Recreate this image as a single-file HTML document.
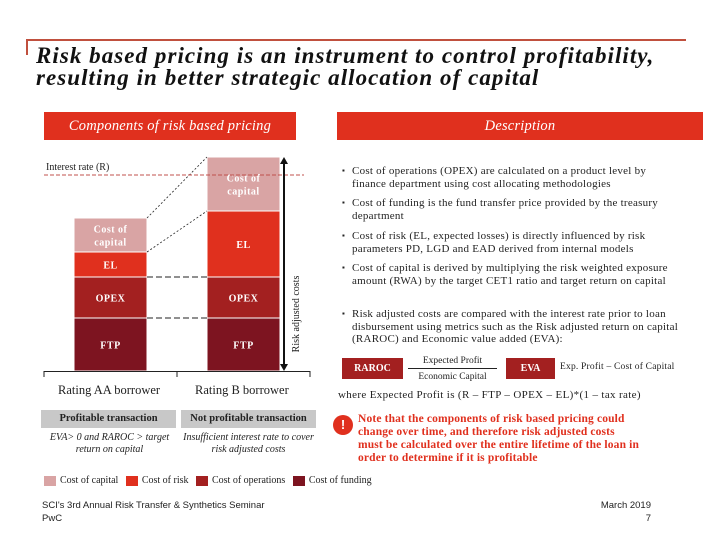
<!DOCTYPE html>
<html><head><meta charset="utf-8">
<style>
body{margin:0;width:720px;height:540px;background:#fff;position:relative;overflow:hidden;font-family:"Liberation Serif",serif;color:#222}
.a{position:absolute}
.hdr{background:#e0301e;color:#fff;font-style:italic;font-size:14.5px;letter-spacing:0.2px;text-align:center;line-height:28px}
.bl{font-size:11px;letter-spacing:0.25px;line-height:12.5px;position:absolute;left:352px;width:318px}
.bl:before{content:"▪";position:absolute;left:-10px;font-size:8px}
.sans{font-family:"Liberation Sans",sans-serif}
.lg{display:inline-block;width:12px;height:10px;vertical-align:middle;margin-right:4px}
</style></head><body>
<div class="a" style="left:26px;top:39px;width:660px;height:2px;background:#c0503e"></div>
<div class="a" style="left:26px;top:39px;width:2px;height:16px;background:#c0503e"></div>
<div class="a" style="left:36px;top:45px;font-size:23px;letter-spacing:1.05px;font-style:italic;font-weight:bold;line-height:22px;color:#111;white-space:nowrap">Risk based pricing is an instrument to control profitability,<br>resulting in better strategic allocation of capital</div>
<div class="a hdr" style="left:44px;top:112px;width:252px;height:28px">Components of risk based pricing</div>
<div class="a hdr" style="left:337px;top:112px;width:366px;height:28px">Description</div>

<svg class="a" id="chart" style="left:0;top:0" width="330" height="380"></svg>

<div class="a" style="left:58px;top:383px;font-size:12.5px">Rating AA borrower</div>
<div class="a" style="left:195px;top:383px;font-size:12.5px">Rating B borrower</div>
<div class="a" style="left:41px;top:410px;width:135px;height:18px;background:#c8c8c8;font-size:10.5px;font-weight:bold;text-align:center;line-height:18px">Profitable transaction</div>
<div class="a" style="left:181px;top:410px;width:135px;height:18px;background:#c8c8c8;font-size:10.5px;font-weight:bold;text-align:center;line-height:18px">Not profitable transaction</div>
<div class="a" style="left:41px;top:432px;width:137px;font-size:10px;font-style:italic;text-align:center;line-height:12px">EVA&gt; 0 and RAROC &gt; target return on capital</div>
<div class="a" style="left:181px;top:432px;width:135px;font-size:10px;font-style:italic;text-align:center;line-height:12px">Insufficient interest rate to cover risk adjusted costs</div>

<div class="a" style="left:44px;top:475px;font-size:10px;white-space:nowrap">
<span><span class="lg" style="background:#d9a4a4"></span>Cost of capital</span>&nbsp;&nbsp;
<span><span class="lg" style="background:#e0301e"></span>Cost of risk</span>&nbsp;&nbsp;
<span><span class="lg" style="background:#a32020"></span>Cost of operations</span>&nbsp;&nbsp;
<span><span class="lg" style="background:#7d1420"></span>Cost of funding</span></div>

<div class="a sans" style="left:42px;top:499px;font-size:9.5px;line-height:13px">SCI's 3rd Annual Risk Transfer &amp; Synthetics Seminar<br>PwC</div>
<div class="a sans" style="left:600px;top:499px;width:51px;font-size:9.5px;line-height:13px;text-align:right">March 2019<br>7</div>

<div class="bl" style="top:165px">Cost of operations (OPEX) are calculated on a product level by finance department using cost allocating methodologies</div>
<div class="bl" style="top:197px">Cost of funding is the fund transfer price provided by the treasury department</div>
<div class="bl" style="top:230px">Cost of risk (EL, expected losses) is directly influenced by risk parameters PD, LGD and EAD derived from internal models</div>
<div class="bl" style="top:262px">Cost of capital is derived by multiplying the risk weighted exposure amount (RWA) by the target CET1 ratio and target return on capital</div>
<div class="bl" style="top:308px;width:335px">Risk adjusted costs are compared with the interest rate prior to loan disbursement using metrics such as the Risk adjusted return on capital (RAROC) and Economic value added (EVA):</div>

<div class="a" style="left:342px;top:358px;width:61px;height:21px;background:#a32020;color:#fff;font-size:10px;font-weight:bold;text-align:center;line-height:21px">RAROC</div>
<div class="a" style="left:408px;top:355px;width:89px;font-size:9.5px;text-align:center;line-height:13px"><div style="border-bottom:1px solid #222">Expected Profit</div><div style="padding-top:2px">Economic Capital</div></div>
<div class="a" style="left:506px;top:358px;width:49px;height:21px;background:#a32020;color:#fff;font-size:10px;font-weight:bold;text-align:center;line-height:21px">EVA</div>
<div class="a" style="left:560px;top:362px;font-size:9.5px;letter-spacing:0.2px">Exp. Profit – Cost of Capital</div>
<div class="a" style="left:338px;top:389px;font-size:11px;letter-spacing:0.35px">where Expected Profit is (R – FTP – OPEX – EL)*(1 – tax rate)</div>
<div class="a sans" style="left:333px;top:415px;width:20px;height:20px;border-radius:50%;background:#e0301e;color:#fff;font-size:13px;font-weight:bold;text-align:center;line-height:20px">!</div>
<div class="a" style="left:358px;top:413px;width:345px;font-size:11.5px;letter-spacing:0.15px;font-weight:bold;color:#e0301e;line-height:13px">Note that the components of risk based pricing could<br>change over time, and therefore risk adjusted costs<br>must be calculated over the entire lifetime of the loan in<br>order to determine if it is profitable</div>

<script>
const categories = ["Rating AA borrower", "Rating B borrower"];
const segmentNames = ["FTP", "OPEX", "EL", "Cost of capital"];
const ftp = [53, 53];
const opex = [41, 41];
const el = [25, 66];
const costOfCapital = [34, 54];
const interestRate = 196;

const NS = "http://www.w3.org/2000/svg";
const svg = document.getElementById('chart');
const baseY = 371, barX = [74, 207], barW = 73;
const colors = ["#7d1420", "#a32020", "#e0301e", "#d9a4a4"];
const labels = [["FTP"], ["OPEX"], ["EL"], ["Cost of", "capital"]];
function yS(v){ return baseY - v; }
function mk(tag, attrs){ const e = document.createElementNS(NS, tag); for (const k in attrs) e.setAttribute(k, attrs[k]); svg.appendChild(e); return e; }

const series = [ftp, opex, el, costOfCapital];
const tops = [];
categories.forEach((c, i) => {
  let cum = 0; tops.push([]);
  series.forEach((s, j) => {
    const y0 = yS(cum), y1 = yS(cum + s[i]);
    const r = mk('rect', {x: barX[i], y: y1, width: barW, height: y0 - y1, fill: colors[j], stroke: '#fff', 'stroke-width': 1});
    
    
    const ls = labels[j], cy = (y0 + y1) / 2;
    ls.forEach((t, k) => {
      const tx = mk('text', {x: barX[i] + barW/2, y: cy + 4 + (k - (ls.length-1)/2) * 13, 'text-anchor': 'middle', fill: '#fff', 'font-size': 10, 'font-weight': 'bold', 'font-family': 'Liberation Serif, serif', 'letter-spacing': '0.5'});
      tx.textContent = t;
      
      
    });
    tops[i].push(y1);
    cum += s[i];
  });
});
[0, 1].forEach(j => {
  const l = mk('line', {x1: barX[0] + barW, x2: barX[1], y1: tops[0][j], y2: tops[0][j], stroke: '#222', 'stroke-dasharray': '6,3', 'stroke-width': 1});
  
  
});
[[3, 3], [2, 2]].forEach(([a, b]) => {
  const l = mk('line', {x1: barX[0] + barW, y1: tops[0][a], x2: barX[1], y2: tops[1][b], stroke: '#222', 'stroke-dasharray': '2,2', 'stroke-width': 0.8});
  
  
});
const ir = mk('line', {x1: 44, x2: 304, y1: yS(interestRate), y2: yS(interestRate), stroke: '#c0504d', 'stroke-dasharray': '4,2', 'stroke-width': 1});


const irt = mk('text', {x: 46, y: yS(interestRate) - 5, 'font-size': 10, 'font-family': 'Liberation Serif, serif', fill: '#222'});
irt.textContent = 'Interest rate (R)';


const ax = mk('line', {x1: 44, x2: 310, y1: baseY + 0.5, y2: baseY + 0.5, stroke: '#222', 'stroke-width': 1});


[44, 177, 310].forEach(x => {
  const t = mk('line', {x1: x, x2: x, y1: baseY, y2: baseY + 6, stroke: '#222'});
  
  
});
const topB = tops[1][3];
const arr = mk('line', {x1: 284, x2: 284, y1: topB + 5, y2: baseY - 5, stroke: '#111', 'stroke-width': 2});


const h1 = mk('polygon', {points: `280,${topB+7} 288,${topB+7} 284,${topB}`, fill: '#111'});


const h2 = mk('polygon', {points: `280,${baseY-7} 288,${baseY-7} 284,${baseY}`, fill: '#111'});


const rl = mk('text', {x: 0, y: 0, transform: `translate(299,${(topB + baseY) / 2 + 50}) rotate(-90)`, 'text-anchor': 'middle', 'font-size': 10, 'font-family': 'Liberation Serif, serif', fill: '#222'});
rl.textContent = 'Risk adjusted costs';


</script>
</body></html>
